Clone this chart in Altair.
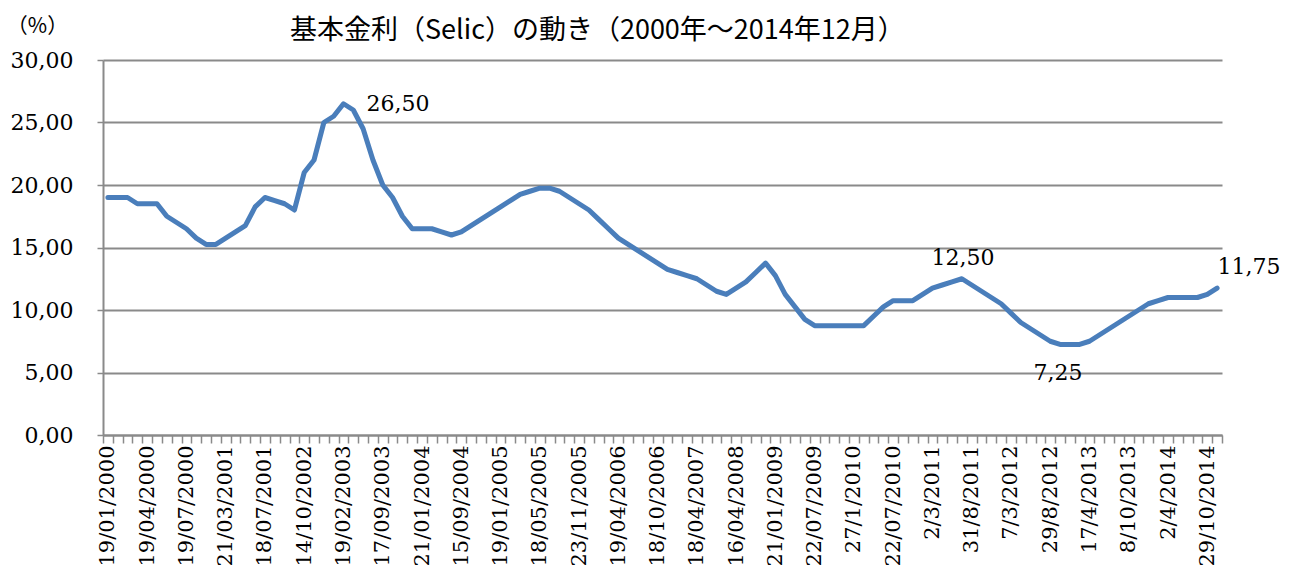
import json
import altair as alt
import pandas as pd

# Selic target rate (%) at each Copom decision shown in the chart
rates = [
    19.0, 19.0, 19.0, 18.5, 18.5, 18.5, 17.5, 17.0, 16.5, 15.75,
    15.25, 15.25, 15.75, 16.25, 16.75, 18.25, 19.0, 18.75, 18.5, 18.0,
    21.0, 22.0, 25.0, 25.5, 26.5, 26.0, 24.5, 22.0, 20.0, 19.0,
    17.5, 16.5, 16.5, 16.5, 16.25, 16.0, 16.25, 16.75, 17.25, 17.75,
    18.25, 18.75, 19.25, 19.5, 19.75, 19.75, 19.5, 19.0, 18.5, 18.0,
    17.25, 16.5, 15.75, 15.25, 14.75, 14.25, 13.75, 13.25, 13.0, 12.75,
    12.5, 12.0, 11.5, 11.25, 11.75, 12.25, 13.0, 13.75, 12.75, 11.25,
    10.25, 9.25, 8.75, 8.75, 8.75, 8.75, 8.75, 8.75, 9.5, 10.25,
    10.75, 10.75, 10.75, 11.25, 11.75, 12.0, 12.25, 12.5, 12.0, 11.5,
    11.0, 10.5, 9.75, 9.0, 8.5, 8.0, 7.5, 7.25, 7.25, 7.25,
    7.5, 8.0, 8.5, 9.0, 9.5, 10.0, 10.5, 10.75, 11.0, 11.0,
    11.0, 11.0, 11.25, 11.75,
]

# tick labels shown on every 4th category
tick_labels = [
    "19/01/2000", "19/04/2000", "19/07/2000", "21/03/2001", "18/07/2001",
    "14/10/2002", "19/02/2003", "17/09/2003", "21/01/2004", "15/09/2004",
    "19/01/2005", "18/05/2005", "23/11/2005", "19/04/2006", "18/10/2006",
    "18/04/2007", "16/04/2008", "21/01/2009", "22/07/2009", "27/1/2010",
    "22/07/2010", "2/3/2011", "31/8/2011", "7/3/2012", "29/8/2012",
    "17/4/2013", "8/10/2013", "2/4/2014", "29/10/2014",
]
label_step = 4

# annotated points: (index, dx, dy, align)
annotations = [
    (24, 23, 0, "left"),
    (87, 1, -21, "center"),
    (97, -2, 29, "center"),
    (113, 32, -21, "center"),
]

y_ticks = [0, 5, 10, 15, 20, 25, 30]

df = pd.DataFrame({"idx": list(range(len(rates))), "rate": rates})

SERIF = "DejaVu Serif"
CJK = "Noto Sans CJK JP"
GRID = "#8a8a8a"
BLUE = "#4a7ebb"

labels_js = json.dumps(tick_labels)
x_label_expr = (
    f"datum.value % {label_step} == 0 ? {labels_js}[datum.value / {label_step}] : ''"
)

x_enc = alt.X(
    "idx:O",
    scale=alt.Scale(type="band", paddingInner=0, paddingOuter=0),
    axis=alt.Axis(
        title=None,
        tickBand="extent",
        labelExpr=x_label_expr,
        labelAngle=-90,
        labelAlign="right",
        labelBaseline="middle",
        labelOverlap=False,
        labelFont=SERIF,
        labelFontSize=21,
        labelColor="#000000",
        labelPadding=2,
        tickColor=GRID,
        tickWidth=1.5,
        tickSize=8,
        domainColor=GRID,
        domainWidth=2,
        grid=False,
    ),
)

y_enc = alt.Y(
    "rate:Q",
    scale=alt.Scale(domain=[0, 30], nice=False, zero=True),
    axis=alt.Axis(
        values=y_ticks,
        labelExpr="replace(format(datum.value, '.2f'), '.', ',')",
        labelFont=SERIF,
        labelFontSize=22,
        labelColor="#000000",
        labelPadding=24,
        tickColor=GRID,
        tickWidth=1.5,
        tickSize=6,
        domainColor=GRID,
        domainWidth=2,
        gridColor=GRID,
        gridWidth=2,
        title="（%）",
        titleAngle=0,
        titleFont=CJK,
        titleFontSize=21,
        titleFontWeight="normal",
        titleColor="#000000",
        titleX=-66,
        titleY=-34,
        titleAlign="center",
        titleBaseline="middle",
    ),
)

base = alt.Chart(df)

line = base.mark_line(color=BLUE, strokeWidth=5, strokeJoin="round", strokeCap="round").encode(
    x=x_enc, y=y_enc
)

layers = [line]
for idx, dx, dy, align in annotations:
    t = (
        base.transform_filter(alt.datum.idx == idx)
        .transform_calculate(txt="replace(format(datum.rate, '.2f'), '.', ',')")
        .mark_text(
            font=SERIF, fontSize=22, color="#000000", align=align, baseline="middle", dx=dx, dy=dy
        )
        .encode(x=alt.X("idx:O"), y=alt.Y("rate:Q"), text="txt:N")
    )
    layers.append(t)

chart = (
    alt.layer(*layers)
    .properties(
        width=1119,
        height=375,
        autosize=alt.AutoSizeParams(type="none"),
        padding={"left": 95, "top": 52, "right": 60, "bottom": 142},
        title=alt.TitleParams(
            "基本金利（Selic）の動き（2000年～2014年12月）",
            font=CJK,
            fontSize=27,
            fontWeight="normal",
            color="#000000",
            anchor="start",
            frame="group",
            baseline="middle",
            dx=187,
            dy=47,
        ),
    )
    .configure_view(stroke=None)
)

chart.save("out.html", embed_options={"renderer": "svg", "actions": False})
